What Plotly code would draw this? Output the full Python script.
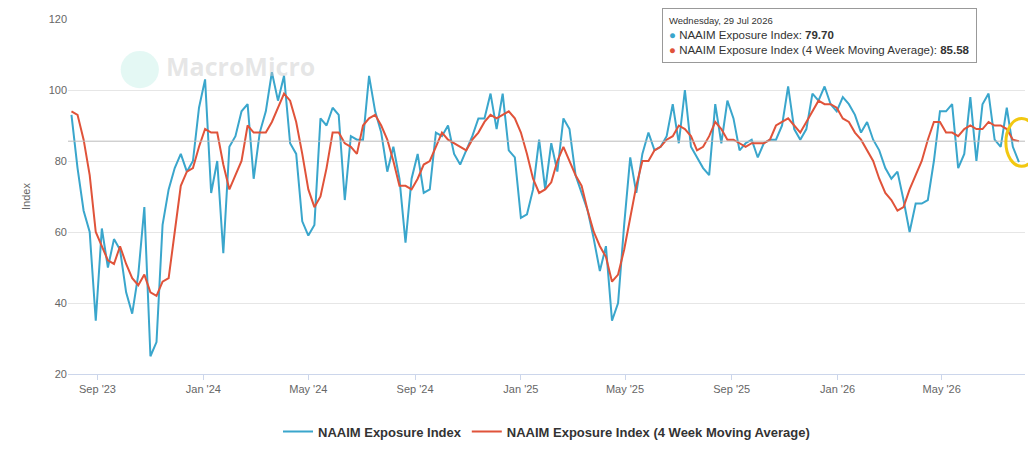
import pandas as pd
import plotly.graph_objects as go

end_date = "2026-07-29"
naaim = [93,78,66,60,35,61,50,58,55,43,
         37,48,67,25,29,62,72,78,82,77,
         80,95,103,71,80,54,84,87,94,96,
         75,88,94,105,97,104,85,82,63,59,
         62,92,90,95,93,69,87,86,86,104,
         94,88,77,84,75,57,75,82,71,72,
         88,87,90,82,79,83,87,92,92,
         99,89,99,83,81,64,65,72,86,72,
         85,77,92,89,76,71,66,58,49,56,
         35,40,62,81,71,82,88,83,84,87,
         96,85,100,84,81,78,76,96,85,97,
         92,83,85,86,81,85,86,86,90,
         101,89,86,89,99,97,101,96,94,
         98,96,93,88,91,86,83,78,75,77,
         69,60,68,68,69,80,94,94,96,78,
         82,98,80,96,99,86,84,95,84,79.70]
naaim_ma = [94,93,86,76,60,56,52,51,56,51,
            47,45,48,43,42,46,47,60,73,77,
            78,84,89,88,88,79,72,76,80,90,
            88,88,88,91,95,99,97,91,82,72,
            67,70,78,88,88,85,84,82,90,92,
            93,90,86,80,73,73,72,75,79,80,
            84,88,86,85,84,83,86,88,91,93,
            92,93,94,92,88,82,75,71,72,74,
            80,84,80,76,73,66,60,56,53,46,
            48,55,64,73,80,80,83,84,86,87,
            90,89,87,83,84,87,91,89,86,86,
            85,84,85,85,85,86,90,91,92,90,
            88,91,94,97,96,96,95,92,91,88,
            86,83,80,75,71,69,66,67,72,76,80,
            86,91,91,88,88,87,89,90,89,89,
            91,90,90,89,86,85.58]
dates = pd.date_range(end=end_date, periods=len(naaim), freq="7D")

BLUE = "#3aa6cc"
RED = "#e0533a"
fig = go.Figure()
fig.add_trace(go.Scatter(x=dates, y=naaim, mode="lines", name="NAAIM Exposure Index",
                         line=dict(color=BLUE, width=2)))
fig.add_trace(go.Scatter(x=dates[-len(naaim_ma):], y=naaim_ma, mode="lines",
                         name="NAAIM Exposure Index (4 Week Moving Average)",
                         line=dict(color=RED, width=2)))
fig.add_hline(y=naaim_ma[-1], line=dict(color="#bbbbbb", width=1))
fig.add_shape(type="circle", xref="paper", yref="y",
              x0=0.98, x1=1.013, y0=78.5, y1=92, line=dict(color="#f2c811", width=3))
fig.add_shape(type="circle", xref="paper", yref="paper", x0=0.055, x1=0.095, y0=0.805, y1=0.91,
              line=dict(width=0), fillcolor="rgba(120,220,200,0.2)", layer="below")
fig.add_annotation(xref="paper", yref="paper", x=0.1, y=0.92, xanchor="left", text="MacroMicro",
                   showarrow=False, font=dict(size=25, color="rgba(200,200,200,0.45)", family="Open Sans", weight="bold"))
fig.add_annotation(xref="paper", yref="paper", x=0.621, y=1.03, xanchor="left", yanchor="top",
                   align="left", showarrow=False, bgcolor="white", bordercolor="#999", borderwidth=1, borderpad=6,
                   text=("<span style='font-size:9.5px'>Wednesday, 29 Jul 2026</span><br>"
                         f"<span style='color:{BLUE}'>●</span> NAAIM Exposure Index: <b>{naaim[-1]:.2f}</b><br>"
                         f"<span style='color:{RED}'>●</span> NAAIM Exposure Index (4 Week Moving Average): <b>{naaim_ma[-1]:.2f}</b>"),
                   font=dict(size=11.5, color="#333", family="Liberation Sans"))
fig.update_layout(
    width=1036, height=469, paper_bgcolor="white", plot_bgcolor="white",
    margin=dict(l=60, r=19, t=11, b=103, autoexpand=False),
    font=dict(family="Liberation Sans", color="#666", size=11),
    showlegend=True,
    legend=dict(orientation="h", x=0.5, xanchor="center", yref="container", y=0.097, yanchor="middle",
                font=dict(size=13, color="#333", weight="bold")),
    xaxis=dict(range=["2023-07-29", "2026-08-05"], tick0="2023-09-01", dtick="M4",
               tickformat="%b '%y", showgrid=False, showline=True, linecolor="#ccd6eb",
               ticks="outside", ticklen=5, tickcolor="#ccd6eb"),
    yaxis=dict(range=[20, 120], dtick=20, gridcolor="#e6e6e6", zeroline=False,
               title=dict(text="Index", font=dict(size=11, color="#666"))),
)
fig.write_html("out.html")
